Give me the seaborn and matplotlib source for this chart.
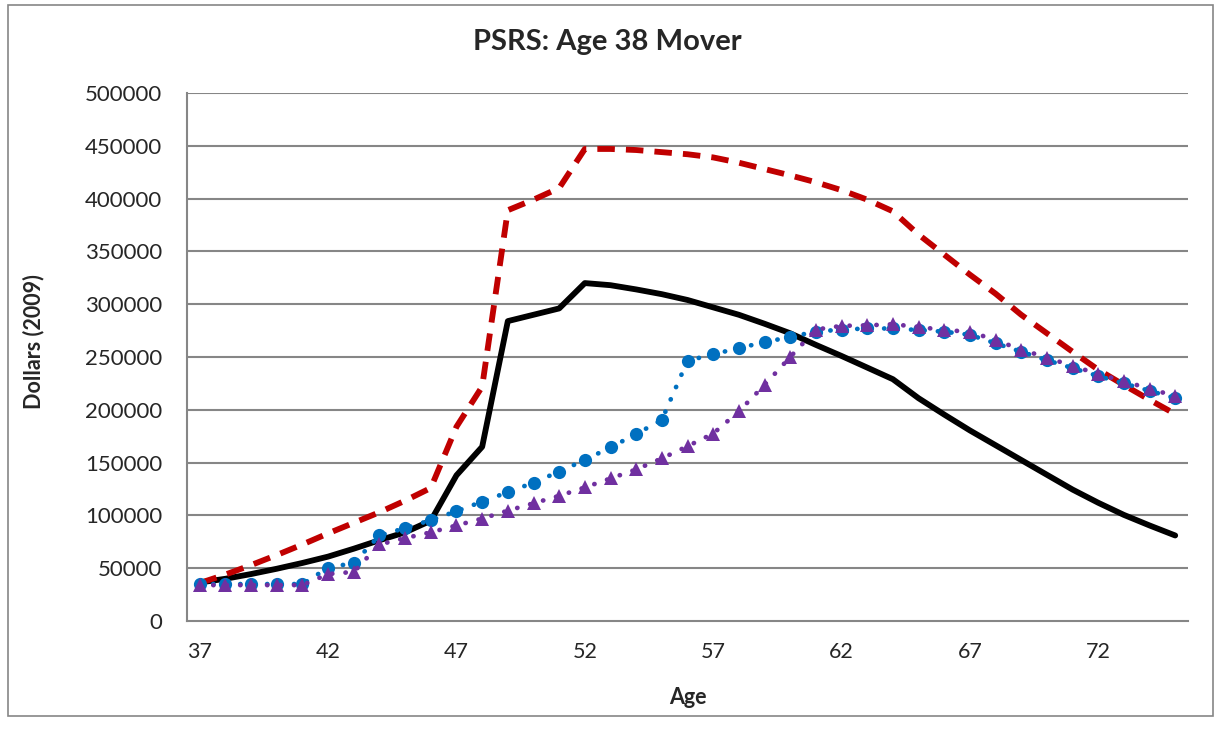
import numpy as np
import pandas as pd
import seaborn as sns
import matplotlib.pyplot as plt
from matplotlib.patches import Rectangle
from matplotlib.ticker import FixedLocator

# ages 37..75
ages = list(range(37, 76))

black_solid = [36500, 40000, 44500, 49500, 55000, 61000, 68500, 76500, 84000, 95000,
               138000, 165000, 284000, 290000, 296000, 320000, 318000, 314000, 309500, 304000,
               297000, 290000, 281500, 272500, 261500, 251000, 240000, 229000, 211000, 195500,
               180500, 166500, 152500, 138500, 124500, 112000, 100500, 90500, 81000]

red_dashed = [36000, 44000, 53000, 62500, 72500, 83000, 93000, 103000, 114000, 126000,
              184000, 222000, 389000, 399000, 410000, 447000, 447000, 446000, 444000, 442000,
              439000, 434000, 428000, 422000, 415500, 408000, 399000, 388000, 366000, 347000,
              328000, 310000, 290000, 272500, 255000, 238000, 223500, 209500, 196000]

blue_circles = [35000, 35000, 35000, 35000, 35000, 50500, 55000, 81000, 88000, 95500,
                104000, 113000, 122000, 131000, 141500, 152500, 164500, 177000, 190500, 246500,
                252500, 258500, 264000, 269000, 274000, 276000, 277000, 277000, 275500, 274000,
                271000, 263000, 255000, 247000, 239500, 232000, 225000, 218000, 211000]

purple_triangles = [34000, 34000, 34000, 34000, 34000, 44500, 46500, 72500, 78500, 84000,
                    90500, 97000, 104500, 111500, 118500, 126500, 135000, 143500, 154000, 165500,
                    177500, 198500, 223500, 250000, 276000, 279500, 280000, 281000, 278500, 275500,
                    274000, 266000, 257000, 249500, 241500, 234000, 227000, 220000, 213000]

y_ticks = list(range(0, 500001, 50000))
x_ticks = [37, 42, 47, 52, 57, 62, 67, 72]

sns.set_style('white')
plt.rcParams['font.family'] = ['Lato', 'DejaVu Sans']

fig = plt.figure(figsize=(12.15, 7.44), dpi=100)
ax = fig.add_axes([0.1539, 0.1653, 0.8239, 0.7097])

grey = '#868686'
for v in y_ticks[1:]:
    ax.axhline(v, color=grey, lw=1.5, zorder=0)

sns.lineplot(x=ages, y=black_solid, ax=ax, color='black', lw=4.2, zorder=3)
sns.lineplot(x=ages, y=red_dashed, ax=ax, color='#C00000', lw=4.2,
             linestyle=(0, (3.0, 1.9)), zorder=4)
sns.lineplot(x=ages, y=blue_circles, ax=ax, color='#0070C0', lw=3.4,
             linestyle=(0, (0.05, 2.8)), dash_capstyle='round',
             marker='o', markersize=9.5, markeredgewidth=0, zorder=5)
sns.lineplot(x=ages, y=purple_triangles, ax=ax, color='#7030A0', lw=3.4,
             linestyle=(0, (0.05, 2.8)), dash_capstyle='round',
             marker='^', markersize=10, markeredgewidth=0, zorder=6)

ax.set_xlim(36.5, 75.5)
ax.set_ylim(0, 500000)
ax.set_yticks(y_ticks)
ax.set_yticklabels([str(v) for v in y_ticks])
ax.xaxis.set_major_locator(FixedLocator(x_ticks))
ax.xaxis.set_minor_locator(FixedLocator(np.arange(36.5, 76, 1)))
ax.tick_params(axis='x', which='major', length=0, pad=15, labelsize=15.5)
ax.tick_params(axis='x', which='minor', length=6, width=1.2, color=grey, direction='out')
ax.tick_params(axis='y', length=7, width=1.2, color=grey, direction='out', pad=11, labelsize=16)

for s in ['top', 'right']:
    ax.spines[s].set_visible(False)
for s in ['left', 'bottom']:
    ax.spines[s].set_color(grey)
    ax.spines[s].set_linewidth(1.5)

ax.set_xlabel('Age', fontsize=15.5, fontweight='bold')
ax.xaxis.set_label_coords(0.5, -0.125)
ax.set_ylabel('Dollars (2009)', fontsize=15.5, fontweight='bold')
ax.yaxis.set_label_coords(-0.142, 0.53)

fig.text(0.4996, 0.9435, 'PSRS: Age 38 Mover', ha='center', va='center',
         fontsize=21, fontweight='bold')

fig.patches.append(Rectangle((0.0066, 0.0376), 0.9918, 0.9556, transform=fig.transFigure,
                             fill=False, edgecolor=grey, lw=1.2))

plt.savefig('out.png', dpi=100)
